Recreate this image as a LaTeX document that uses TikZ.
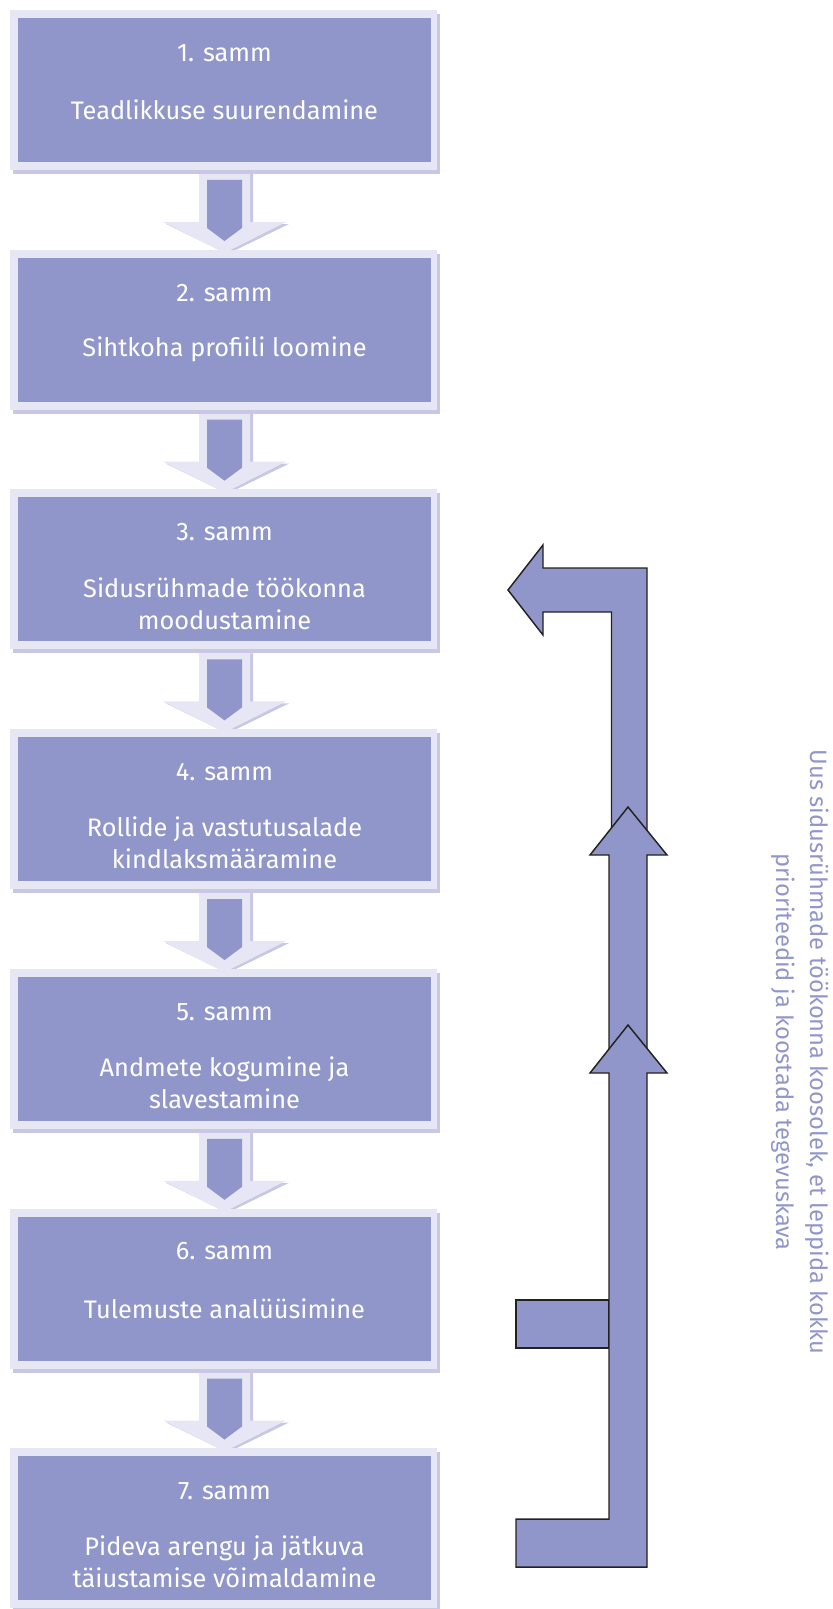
\documentclass[tikz,border=0pt]{standalone}
\usepackage{fontspec}
\setmainfont{Fira Sans}
\definecolor{boxc}{HTML}{9196CA}
\definecolor{framec}{HTML}{E6E6F4}
\definecolor{shadc}{HTML}{C6C8E4}
\definecolor{edgec}{HTML}{222222}
\tikzset{
  boxnode/.style={fill=boxc, minimum width=309.75pt, minimum height=108pt, inner sep=0pt, draw=none},
  steptext/.style={text=white, font=\fontsize{19pt}{24pt}\selectfont, align=center, inner sep=0pt},
  bigarrow/.style={fill=boxc, draw=edgec, line width=1.1pt, line join=miter},
  sidetext/.style={text=boxc, font=\fontsize{17.8pt}{25.5pt}\selectfont, align=center, inner sep=0pt},
}
% #1 inner top, #2 name, #3 title, #4 body, #5 body offset
\newcommand\mkstep[5]{%
  \fill[shadc] (13,#1-4) rectangle (440,#1+156);
  \fill[framec] (10,#1-8) rectangle (437,#1+152);
  \node[boxnode] (#2) at (224.5,#1+72) {};
  \node[steptext] (#2t) at (224.5,#1+35) {#3};
  \node[steptext] (#2b) at (224.5,#1+#5) {#4};
}
% down arrow below box whose inner top is #1
\newcommand\mkdown[1]{%
  \fill[shadc] (202,#1+156) -- (253,#1+156) -- (253,#1+206) -- (289,#1+206) -- (227.5,#1+236) -- (166,#1+206) -- (202,#1+206) -- cycle;
  \fill[framec] (199,#1+154) -- (250,#1+154) -- (250,#1+204) -- (286,#1+204) -- (224.5,#1+235) -- (163,#1+204) -- (199,#1+204) -- cycle;
  \fill[boxc] (207,#1+162) -- (242,#1+162) -- (242,#1+210) -- (224.5,#1+223) -- (207,#1+210) -- cycle;
}
\begin{document}
\begin{tikzpicture}[x=0.75pt, y=-0.75pt]
\useasboundingbox (0,0) rectangle (832,1609);
\mkdown{18}
\mkdown{257.7}
\mkdown{497.4}
\mkdown{737.1}
\mkdown{976.8}
\mkdown{1216.5}
\mkstep{18}{s1}{1. samm}{Teadlikkuse suurendamine}{92}
\mkstep{257.7}{s2}{2. samm}{Sihtkoha profiili loomine}{92}
\mkstep{497.4}{s3}{3. samm}{Sidusrühmade töökonna\\moodustamine}{106}
\mkstep{737.1}{s4}{4. samm}{Rollide ja vastutusalade\\kindlaksmääramine}{106}
\mkstep{976.8}{s5}{5. samm}{Andmete kogumine ja\\slavestamine}{106}
\mkstep{1216.5}{s6}{6. samm}{Tulemuste analüüsimine}{92}
\mkstep{1456.2}{s7}{7. samm}{Pideva arengu ja jätkuva\\täiustamise võimaldamine}{106}
% feedback arrows
\draw[bigarrow] (508,590) -- (543,545) -- (543,568) -- (647,568) -- (647,840) -- (611.5,840) -- (611.5,612) -- (543,612) -- (543,635) -- cycle;
\draw[bigarrow] (628,807) -- (667,855) -- (647,855) -- (647,1060) -- (609,1060) -- (609,855) -- (590,855) -- cycle;
\draw[bigarrow] (516,1300) rectangle (609,1348);
\draw[bigarrow] (628,1025) -- (667,1073) -- (647,1073) -- (647,1567) -- (516,1567) -- (516,1519) -- (609,1519) -- (609,1073) -- (590,1073) -- cycle;
\node[sidetext, rotate=-90] (side) at (800,1052) {Uus sidusrühmade töökonna koosolek, et leppida kokku\\prioriteedid ja koostada tegevuskava};
\end{tikzpicture}
\end{document}
